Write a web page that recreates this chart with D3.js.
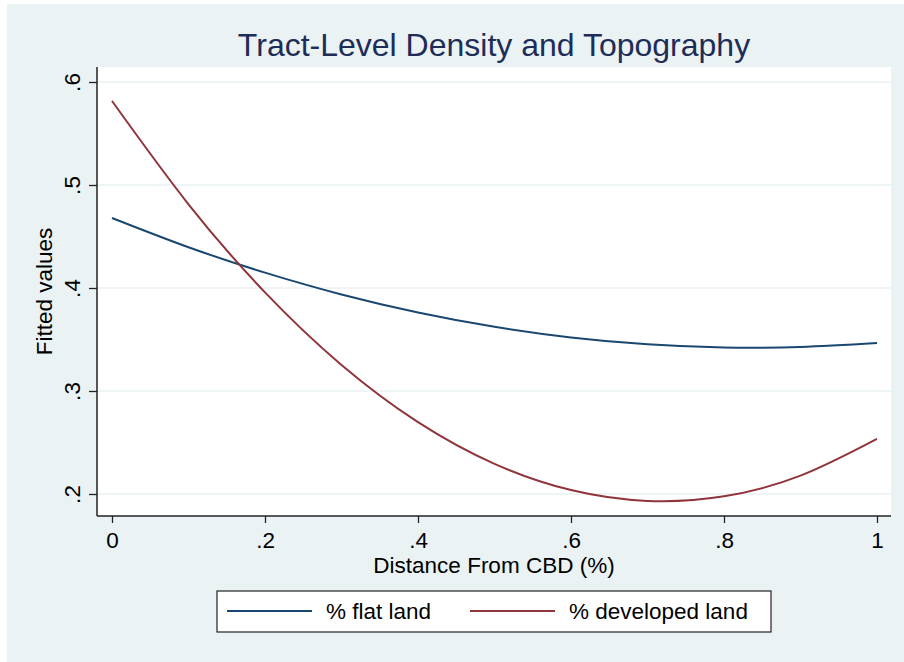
<!DOCTYPE html>
<html>
<head>
<meta charset="utf-8">
<script src="https://cdn.jsdelivr.net/npm/d3@7"></script>
<style>
  html, body { margin: 0; padding: 0; background: #ffffff; }
  svg { display: block; font-family: "Liberation Sans", Arial, Helvetica, sans-serif; }
</style>
</head>
<body>
<svg id="chart" width="904" height="662"></svg>
<script>
// --- data (fitted quadratic curves) ---
const distance = [0, 0.1, 0.2, 0.3, 0.4, 0.5, 0.6, 0.7, 0.8, 0.9, 1.0];
const flatLand = [0.468, 0.4396, 0.4149, 0.3937, 0.3762, 0.3623, 0.3520, 0.3453, 0.3422, 0.3428, 0.3466];
const developedLand = [0.5816, 0.4813, 0.3958, 0.3253, 0.2698, 0.2293, 0.2038, 0.1933, 0.1978, 0.2178, 0.2535];
const xTicks = [0, 0.2, 0.4, 0.6, 0.8, 1];
const yTicks = [0.2, 0.3, 0.4, 0.5, 0.6];
const seriesNames = ["% flat land", "% developed land"];
const seriesColors = ["#1a476f", "#90353b"];

const svg = d3.select("#chart");
const fmt = d => d === 0 ? "0" : d === 1 ? "1" : d3.format(".1f")(d).replace(/^0/, "");
const labelSize = 22.5;

// outer graph region
svg.append("rect").attr("x", 7).attr("y", 4).attr("width", 897).attr("height", 658).attr("fill", "#eaf2f3");

// plot region
const plot = { left: 97, top: 67, right: 891, bottom: 516 };
svg.append("rect")
    .attr("x", plot.left).attr("y", plot.top)
    .attr("width", plot.right - plot.left).attr("height", plot.bottom - plot.top)
    .attr("fill", "#ffffff");

const x = d3.scaleLinear().domain([0, 1]).range([112, 877]);
const y = d3.scaleLinear().domain([0.2, 0.6]).range([494, 82]);

// gridlines
svg.append("g").selectAll("line").data(yTicks).enter().append("line")
    .attr("x1", plot.left).attr("x2", plot.right)
    .attr("y1", d => y(d)).attr("y2", d => y(d))
    .attr("stroke", "#eaf2f3").attr("stroke-width", 1.5);

// curves
const line = d3.line().x(d => x(d[0])).y(d => y(d[1])).curve(d3.curveNatural);
[flatLand, developedLand].forEach((vals, i) => {
    svg.append("path")
        .datum(distance.map((d, j) => [d, vals[j]]))
        .attr("d", line)
        .attr("fill", "none")
        .attr("stroke", seriesColors[i])
        .attr("stroke-width", 2);
});

// axes
const yAxis = svg.append("g").attr("transform", `translate(${plot.left},0)`)
    .call(d3.axisLeft(y).tickValues(yTicks).tickFormat(fmt).tickSize(8).tickSizeOuter(0));
const xAxis = svg.append("g").attr("transform", `translate(0,${plot.bottom})`)
    .call(d3.axisBottom(x).tickValues(xTicks).tickFormat(fmt).tickSize(7).tickSizeOuter(0));

[yAxis, xAxis].forEach(a => {
    a.select(".domain").remove();
    a.selectAll(".tick line").attr("stroke", "#222").attr("stroke-width", 1.3);
    a.selectAll(".tick text").attr("fill", "#000").attr("font-size", labelSize).attr("font-family", null);
});
svg.append("line").attr("x1", plot.left).attr("x2", plot.left).attr("y1", plot.top).attr("y2", plot.bottom)
    .attr("stroke", "#222").attr("stroke-width", 1.5);
svg.append("line").attr("x1", plot.left).attr("x2", plot.right).attr("y1", plot.bottom).attr("y2", plot.bottom)
    .attr("stroke", "#222").attr("stroke-width", 1.5);

xAxis.selectAll(".tick text").attr("y", 16).attr("dy", "0.71em");
yAxis.selectAll(".tick text")
    .attr("x", null).attr("dy", null)
    .attr("text-anchor", "middle")
    .attr("transform", "translate(-17,0) rotate(-90)")
    .attr("y", 0);

// titles
svg.append("text").attr("x", (plot.left + plot.right) / 2).attr("y", 56)
    .attr("text-anchor", "middle").attr("font-size", 32).attr("fill", "#1e2d58")
    .text("Tract-Level Density and Topography");
svg.append("text").attr("x", (plot.left + plot.right) / 2).attr("y", 573)
    .attr("text-anchor", "middle").attr("font-size", labelSize).attr("fill", "#000")
    .text("Distance From CBD (%)");
svg.append("text").attr("transform", `translate(52,${(plot.top + plot.bottom) / 2}) rotate(-90)`)
    .attr("text-anchor", "middle").attr("font-size", labelSize).attr("fill", "#000")
    .text("Fitted values");

// legend
const legend = svg.append("g");
legend.append("rect").attr("x", 217).attr("y", 591).attr("width", 554).attr("height", 41)
    .attr("fill", "#ffffff").attr("stroke", "#222").attr("stroke-width", 1.2);
const legendX = [227, 470];
seriesNames.forEach((name, i) => {
    legend.append("line").attr("x1", legendX[i]).attr("x2", legendX[i] + 85)
        .attr("y1", 611).attr("y2", 611)
        .attr("stroke", seriesColors[i]).attr("stroke-width", 2);
    legend.append("text").attr("x", legendX[i] + 99).attr("y", 619)
        .attr("font-size", labelSize).attr("fill", "#000").text(name);
});
</script>
</body>
</html>
